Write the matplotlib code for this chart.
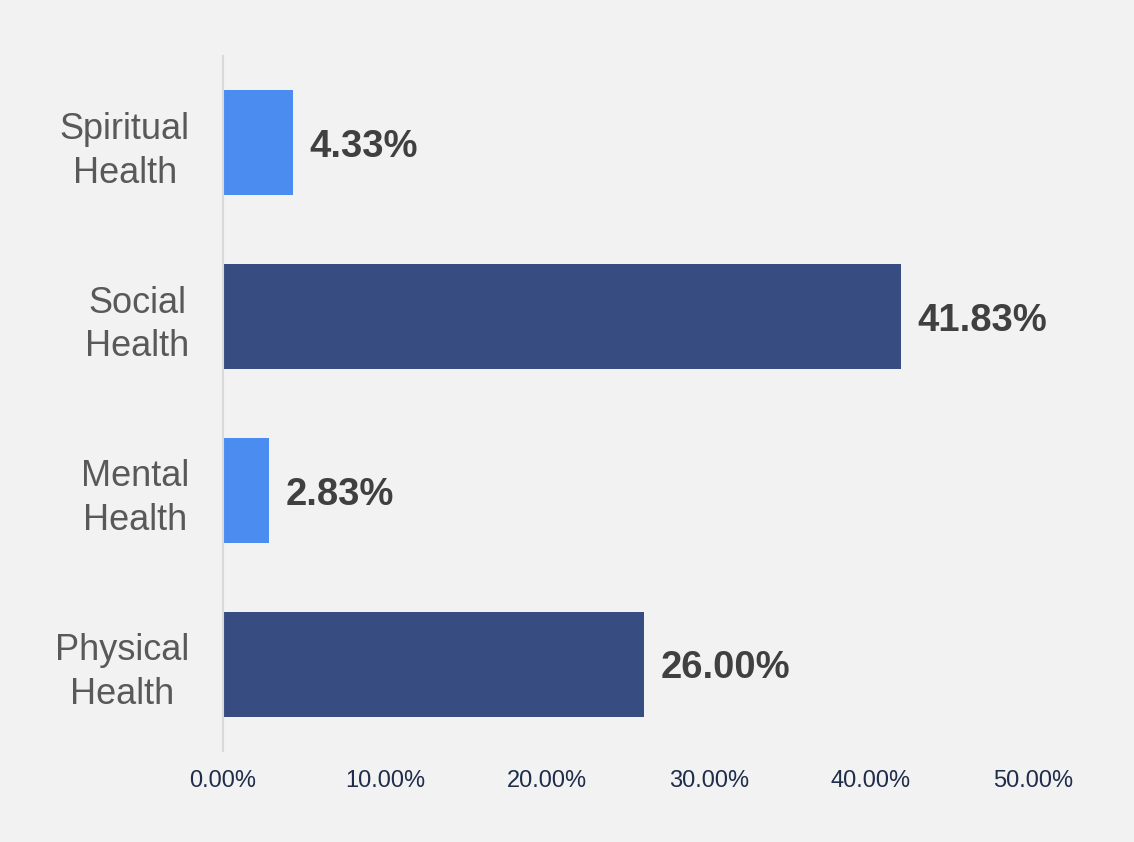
import matplotlib
matplotlib.use("Agg")
import matplotlib.pyplot as plt
from matplotlib.ticker import FuncFormatter

plt.rcParams['font.family'] = ['Liberation Sans', 'DejaVu Sans']

categories = ["Physical\nHealth", "Mental\nHealth", "Social\nHealth", "Spiritual\nHealth"]
values = [26.00, 2.83, 41.83, 4.33]
colors = ["#374c80", "#4a8cf0", "#374c80", "#4a8cf0"]
xticks = [0, 10, 20, 30, 40, 50]

bg = "#f2f2f2"
fig = plt.figure(figsize=(11.34, 8.42), dpi=100, facecolor=bg)
ax = fig.add_axes([223/1134, 1-751/842, (1033-223)/1134, (751-56)/842])
ax.set_facecolor(bg)

y = list(range(len(categories)))
bars = ax.barh(y, values, height=0.605, color=colors, zorder=2)

for yi, v in zip(y, values):
    ax.annotate(f"{v:.2f}%", xy=(v, yi), xytext=(12, -3), textcoords="offset points",
                ha="left", va="center", fontsize=27.5, fontweight="bold", color="#404040")

ax.set_xlim(0, 50)
ax.set_ylim(-0.5, 3.5)
ax.set_xticks(xticks)
ax.xaxis.set_major_formatter(FuncFormatter(lambda x, p: f"{x:.2f}%"))
ax.set_yticks(y)
ax.set_yticklabels(categories, multialignment="center", linespacing=1.32)

ax.tick_params(axis="x", length=0, pad=14, labelsize=17, labelcolor="#1f2d4a")
ax.tick_params(axis="y", length=0, pad=24, labelsize=26, labelcolor="#595959")

for s in ["top", "right", "bottom"]:
    ax.spines[s].set_visible(False)
ax.spines["left"].set_color("#d9d9d9")
ax.spines["left"].set_linewidth(1.5)

fig.savefig("out.png", dpi=100, facecolor=bg)
